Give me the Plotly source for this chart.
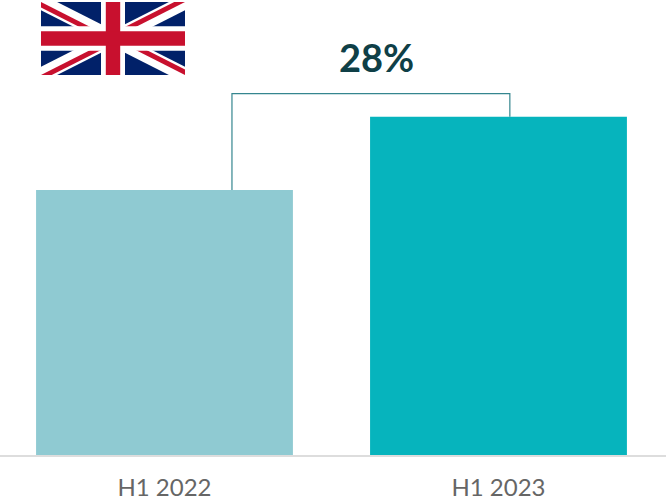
import plotly.graph_objects as go

# Half-year comparison, UK
periods = ["H1 2022", "H1 2023"]
values = [100, 127.6]
bar_colors = ["#8FCAD2", "#06B4BD"]
change_label = "28%"

W, H = 666, 500
PLOT_H = 455
X0 = -0.4925
X1 = 1.5015
Y_MAX = 171.7
BRACKET_TOP = 136.4
BRACKET_LEFT = 0.202
BRACKET_RIGHT = 1.034

# Union flag outline on a 60x30 grid
NAVY, RED, WHITE = "#012169", "#C8102E", "#FFFFFF"
flag_layers = [
    (NAVY, [(0, 0), (60, 0), (60, 30), (0, 30)]),
    (WHITE, [(0, 0), (6.708, 0), (60, 26.646), (60, 30), (53.292, 30), (0, 3.354)]),
    (WHITE, [(60, 0), (60, 3.354), (6.708, 30), (0, 30), (0, 26.646), (53.292, 0)]),
    (RED, [(0, 0), (30, 15), (30, 17.236), (0, 2.236)]),
    (RED, [(60, 0), (30, 15), (30, 12.764), (55.528, 0)]),
    (RED, [(30, 15), (60, 30), (60, 27.764), (30, 12.764)]),
    (RED, [(30, 15), (0, 30), (4.472, 30), (30, 17.236)]),
    (WHITE, [(25, 0), (35, 0), (35, 30), (25, 30)]),
    (WHITE, [(0, 10), (60, 10), (60, 20), (0, 20)]),
    (RED, [(27, 0), (33, 0), (33, 30), (27, 30)]),
    (RED, [(0, 12), (60, 12), (60, 18), (0, 18)]),
]
FLAG_LEFT, FLAG_TOP, FLAG_W, FLAG_H = 41, 2, 144, 73


def flag_path(points):
    coords = []
    for gx, gy in points:
        px = (FLAG_LEFT + gx / 60 * FLAG_W) / W
        py = 1 - (FLAG_TOP + gy / 30 * FLAG_H) / PLOT_H
        coords.append(f"{px:.5f},{py:.5f}")
    return "M" + "L".join(coords) + "Z"


shapes = [
    dict(type="path", xref="paper", yref="paper", path=flag_path(pts),
         fillcolor=color, line=dict(width=0), layer="above")
    for color, pts in flag_layers
]

fig = go.Figure()
fig.add_trace(go.Bar(
    x=[0, 1], y=values, width=0.769,
    marker=dict(color=bar_colors, line=dict(width=0)),
    hoverinfo="skip",
))
# Bracket joining the two bars
fig.add_trace(go.Scatter(
    x=[BRACKET_LEFT, BRACKET_LEFT, BRACKET_RIGHT, BRACKET_RIGHT],
    y=[values[0], BRACKET_TOP, BRACKET_TOP, values[1]],
    mode="lines", line=dict(color="#35868F", width=1.2), hoverinfo="skip",
))

fig.update_layout(
    width=W, height=H, autosize=False,
    margin=dict(l=0, r=0, t=0, b=H - PLOT_H, pad=0),
    paper_bgcolor="white", plot_bgcolor="white",
    showlegend=False, shapes=shapes,
    annotations=[dict(
        x=(BRACKET_LEFT + BRACKET_RIGHT) / 2, y=BRACKET_TOP, xref="x", yref="y",
        text=f"<b>{change_label}</b>", showarrow=False, yanchor="bottom",
        yshift=12, xshift=5.5,
        font=dict(family="Lato", size=38, color="#0F3F47"),
    )],
    xaxis=dict(
        range=[X0, X1], tickmode="array", tickvals=[0, 1], ticktext=periods,
        showgrid=False, zeroline=False, ticks="", showline=True,
        linecolor="#DDDDDD", linewidth=2,
        tickfont=dict(family="Lato", size=24, color="#666666"),
        ticklabelstandoff=10,
    ),
    yaxis=dict(range=[0, Y_MAX], visible=False),
)
fig.write_html("out.html", config=dict(displayModeBar=False))
